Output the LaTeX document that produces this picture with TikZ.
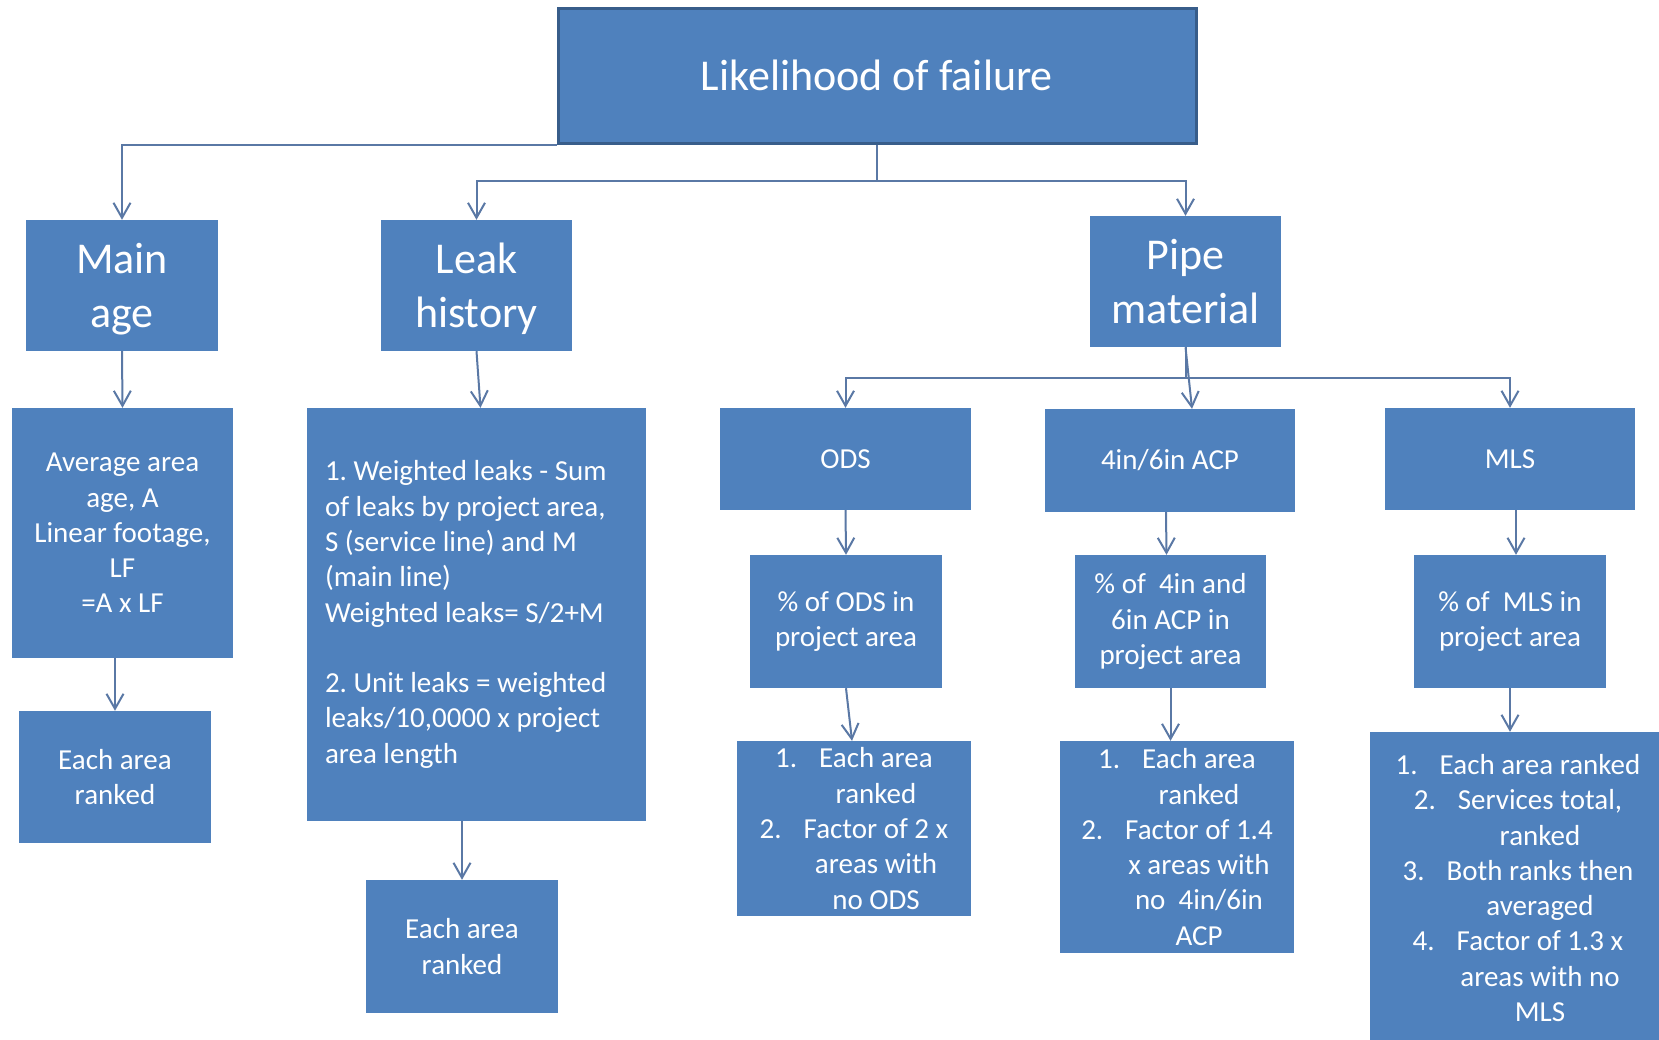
\documentclass[tikz,border=0pt]{standalone}
\usepackage{fontspec}
\setmainfont{Carlito}
\usetikzlibrary{arrows.meta}
\definecolor{boxblue}{HTML}{4F81BD}
\definecolor{edgeblue}{HTML}{385D8A}
\definecolor{linkblue}{RGB}{90,120,165}
\frenchspacing
% numbered list helpers: hanging number and indented continuation lines
\newcommand{\itemno}[1]{\makebox[44pt][l]{#1}}
\newcommand{\contind}{\hspace*{44pt}}
\tikzset{
  box/.style={fill=boxblue, draw=none, text=white, align=center, inner sep=0pt,
    font=\fontsize{29}{35.3}\selectfont},
  bigbox/.style={box, font=\fontsize{44}{54}\selectfont},
  bigtext/.style={text=white, align=center, inner sep=0pt, font=\fontsize{44}{54}\selectfont},
  link/.style={draw=linkblue, line width=2pt,
    -{Straight Barb[length=15pt,width=17pt,line width=2pt]}},
  plain/.style={draw=linkblue, line width=2pt},
}
\begin{document}
\begin{tikzpicture}[x=1pt,y=-1pt]
\useasboundingbox (0,0) rectangle (1659,1039);
\fill[white] (0,0) rectangle (1659,1039);

% top level
\node[bigbox, draw=edgeblue, line width=3pt, minimum width=638pt, minimum height=135pt]
  (title) at (877,75.5) {Likelihood of failure};

% second level
\node[bigbox, minimum width=192pt, minimum height=131pt] (mainage) at (122,285.5) {};
\node[bigtext] (mainagetext) at ([yshift=-4pt]mainage.center) {Main\\age};
\node[bigbox, minimum width=191pt, minimum height=131pt] (leak) at (476.5,285.5) {};
\node[bigtext] (leaktext) at ([yshift=-3pt]leak.center) {Leak\\history};
\node[bigbox, minimum width=191pt, minimum height=131pt] (pipe) at (1185.5,281.5) {Pipe\\material};

% main age branch
\node[box, minimum width=221pt, minimum height=250pt] (avg) at (122.5,533)
  {Average area\\age, A\\Linear footage,\\LF\\=A x LF};
\node[box, minimum width=192pt, minimum height=132pt] (rank1) at (115,777) {Each area\\ranked};

% leak history branch
\node[box, align=flush left, text width=303pt, inner xsep=18pt, minimum height=413pt] (weighted) at (476.5,614.5)
  {1. Weighted leaks - Sum\\of leaks by project area,\\S (service line) and M\\(main line)\\Weighted leaks= S/2+M\\[35.3pt]2. Unit leaks = weighted\\leaks/10,0000 x project\\area length};
\node[box, minimum width=192pt, minimum height=133pt] (rank2) at (462,946.5) {Each area\\ranked};

% pipe material branch
\node[box, minimum width=251pt, minimum height=102pt] (ods) at (845.5,459) {ODS};
\node[box, minimum width=250pt, minimum height=103pt] (acp) at (1170,460.5) {4in/6in ACP};
\node[box, minimum width=250pt, minimum height=102pt] (mls) at (1510,459) {MLS};

\node[box, minimum width=192pt, minimum height=133pt] (pods) at (846,621.5) {\% of ODS in\\project area};
\node[box, minimum width=191pt, minimum height=133pt] (pacp) at (1170.5,621.5) {\% of~ 4in and\\6in ACP in\\project area};
\node[box, minimum width=192pt, minimum height=133pt] (pmls) at (1510,621.5) {\% of~ MLS in\\project area};

\node[box, minimum width=234pt, minimum height=175pt] (lods) at (854,828.5)
  {\itemno{1.}Each area\\\contind ranked\\\itemno{2.}Factor of 2 x\\\contind areas with\\\contind no ODS};
\node[box, minimum width=234pt, minimum height=212pt] (lacp) at (1177,847)
  {\itemno{1.}Each area\\\contind ranked\\\itemno{2.}Factor of 1.4\\\contind x areas with\\\contind no~ 4in/6in\\\contind ACP};
\node[box, minimum width=296pt, minimum height=312pt] (lmls) at (1518,888)
  {\itemno{1.}Each area ranked\\\itemno{2.}Services total,\\\contind ranked\\\itemno{3.}Both ranks then\\\contind averaged\\\itemno{4.}Factor of 1.3 x\\\contind areas with no\\\contind MLS};

% connectors from the top box
\draw[link] (title.south west) -| (mainage.north);
\coordinate (tj) at (877,181);
\draw[plain] (title.south) -- (tj);
\draw[link] (tj) -| (leak.north);
\draw[link] (tj) -| (pipe.north);

% main age chain
\draw[link] (mainage.south) -- (avg.north);
\draw[link] (avg.south -| rank1.north) -- (rank1.north);

% leak history chain
\draw[link] (leak.south) -- ([xshift=4pt]weighted.north);
\draw[link] (weighted.south -| rank2.north) -- (rank2.north);

% pipe material fan-out
\coordinate (pj) at (1185.5,378);
\draw[plain] (pipe.south) -- (pj);
\draw[link] (pj) -| (ods.north);
\draw[link] (pj) -| (mls.north);
\draw[link] (pipe.south) -- ([xshift=22pt]acp.north);

\draw[link] (ods.south) -- (pods.north);
\draw[link] ([xshift=-4pt]acp.south) -- ([xshift=-4pt]pacp.north);
\draw[link] ([xshift=6pt]mls.south) -- ([xshift=6pt]pmls.north);

\draw[link] (pods.south) -- ([xshift=-2pt]lods.north);
\draw[link] (pacp.south) -- (pacp.south |- lacp.north);
\draw[link] (pmls.south) -- (pmls.south |- lmls.north);
\end{tikzpicture}
\end{document}
